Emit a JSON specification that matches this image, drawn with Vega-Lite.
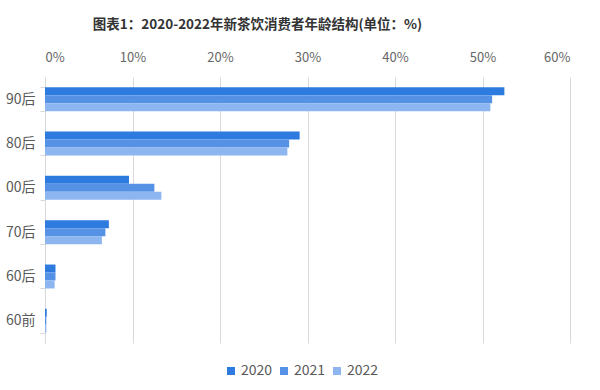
{
  "$schema": "https://vega.github.io/schema/vega-lite/v6.json",
  "width": 525,
  "height": 266,
  "autosize": {"type": "none"},
  "padding": {"left": 45, "top": 77, "right": 30, "bottom": 47},
  "background": "white",
  "title": {
    "text": "图表1：2020-2022年新茶饮消费者年龄结构(单位：%)",
    "anchor": "middle",
    "dx": -50,
    "offset": 20,
    "font": "Noto Sans CJK SC",
    "fontSize": 13.5,
    "fontWeight": "bold",
    "color": "#333333"
  },
  "config": {
    "view": {"stroke": null},
    "font": "Noto Sans CJK SC"
  },
  "data": {
    "values": [
      {"age": "90后", "year": "2020", "value": 52.5},
      {"age": "90后", "year": "2021", "value": 51.1},
      {"age": "90后", "year": "2022", "value": 50.9},
      {"age": "80后", "year": "2020", "value": 29.1},
      {"age": "80后", "year": "2021", "value": 27.9},
      {"age": "80后", "year": "2022", "value": 27.7},
      {"age": "00后", "year": "2020", "value": 9.6},
      {"age": "00后", "year": "2021", "value": 12.5},
      {"age": "00后", "year": "2022", "value": 13.3},
      {"age": "70后", "year": "2020", "value": 7.3},
      {"age": "70后", "year": "2021", "value": 6.9},
      {"age": "70后", "year": "2022", "value": 6.5},
      {"age": "60后", "year": "2020", "value": 1.2},
      {"age": "60后", "year": "2021", "value": 1.2},
      {"age": "60后", "year": "2022", "value": 1.1},
      {"age": "60前", "year": "2020", "value": 0.2},
      {"age": "60前", "year": "2021", "value": 0.15},
      {"age": "60前", "year": "2022", "value": 0.15}
    ]
  },
  "mark": {"type": "bar"},
  "encoding": {
    "y": {
      "field": "age",
      "type": "nominal",
      "sort": ["90后", "80后", "00后", "70后", "60后", "60前"],
      "scale": {"paddingInner": 0.46, "paddingOuter": 0.23},
      "axis": {
        "title": null,
        "orient": "left",
        "domainColor": "#d9d9d9",
        "tickColor": "#d9d9d9",
        "tickSize": 5,
        "tickBand": "extent",
        "labelFont": "Noto Sans CJK SC",
        "labelFontSize": 14,
        "labelColor": "#595959",
        "labelPadding": 5
      }
    },
    "yOffset": {
      "field": "year",
      "type": "nominal",
      "sort": ["2020", "2021", "2022"],
      "scale": {"paddingInner": 0, "paddingOuter": 0}
    },
    "x": {
      "field": "value",
      "type": "quantitative",
      "scale": {"domain": [0, 60], "nice": false},
      "axis": {
        "title": null,
        "orient": "top",
        "values": [0, 10, 20, 30, 40, 50, 60],
        "labelExpr": "datum.value + '%'",
        "domain": false,
        "ticks": false,
        "grid": true,
        "gridColor": "#d9d9d9",
        "labelFont": "Noto Sans CJK SC",
        "labelFontSize": 13,
        "labelColor": "#666666",
        "labelPadding": 13
      }
    },
    "color": {
      "field": "year",
      "type": "nominal",
      "scale": {"domain": ["2020", "2021", "2022"], "range": ["#2e7be0", "#5592e6", "#8db6f0"]},
      "legend": {
        "title": null,
        "orient": "none",
        "direction": "horizontal",
        "legendX": 179,
        "legendY": 287,
        "symbolType": "square",
        "symbolSize": 64,
        "symbolStrokeWidth": 0,
        "labelOffset": 3,
        "labelFont": "Noto Sans CJK SC",
        "labelFontSize": 14,
        "labelColor": "#595959",
        "columnPadding": 4
      }
    }
  }
}
